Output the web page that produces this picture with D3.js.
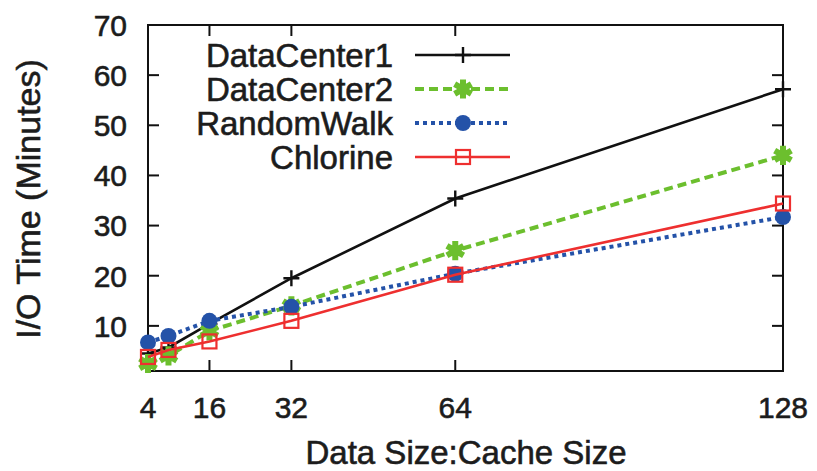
<!DOCTYPE html>
<html>
<head>
<meta charset="utf-8">
<script src="https://cdn.jsdelivr.net/npm/d3@7"></script>
<style>
  body { margin: 0; background: #fff; }
  text { font-family: "Liberation Sans", Arial, sans-serif; fill: #1c1c1c; stroke: #1c1c1c; stroke-width: 0.6px; }
</style>
</head>
<body>
<div id="chart"></div>
<script>
const ratios = [4, 8, 16, 32, 64, 128];
const xTicks = [4, 16, 32, 64, 128];
const yTicks = [10, 20, 30, 40, 50, 60, 70];

const dataCenter1 = [4.5, 5.7, 10.4, 19.5, 35.4, 57.2];
const dataCenter2 = [2.5, 4.0, 9.0, 14.0, 25.0, 44.0];
const randomWalk = [6.7, 8.0, 11.0, 13.8, 20.4, 31.7];
const chlorine = [3.8, 5.2, 6.9, 11.0, 20.2, 34.4];

const seriesNames = ['DataCenter1', 'DataCenter2', 'RandomWalk', 'Chlorine'];

const width = 817, height = 471;
const margin = {top: 25, right: 34, bottom: 100, left: 148};

const svg = d3.select('#chart').append('svg')
    .attr('width', width)
    .attr('height', height);

const x = d3.scaleLinear()
    .domain([4, 128])
    .range([margin.left, width - margin.right]);

const y = d3.scaleLinear()
    .domain([1, 70])
    .range([height - margin.bottom, margin.top]);

const styles = [
    {color: '#111111', width: 2.6, dash: null, marker: 'plus'},
    {color: '#6cbf2e', width: 4, dash: '9,5', marker: 'star'},
    {color: '#2452a8', width: 4, dash: '4,4', marker: 'circle'},
    {color: '#ee2f2f', width: 2.6, dash: null, marker: 'square'}
];

const series = [dataCenter1, dataCenter2, randomWalk, chlorine].map((vals, i) => ({
    name: seriesNames[i],
    style: styles[i],
    points: vals.map((v, j) => ({x: ratios[j], y: v}))
}));

// frame and ticks (gnuplot style, mirrored inward)
const x0 = x.range()[0], x1 = x.range()[1];
const y0 = y.range()[0], y1 = y.range()[1];
const tickLen = 11;

const frame = svg.append('g').attr('stroke', '#111').attr('stroke-width', 2);
frame.append('rect')
    .attr('x', x0).attr('y', y1)
    .attr('width', x1 - x0).attr('height', y0 - y1)
    .attr('fill', 'none');

xTicks.forEach(t => {
    frame.append('line').attr('x1', x(t)).attr('x2', x(t)).attr('y1', y0).attr('y2', y0 - tickLen);
    frame.append('line').attr('x1', x(t)).attr('x2', x(t)).attr('y1', y1).attr('y2', y1 + tickLen);
});
yTicks.forEach(t => {
    frame.append('line').attr('x1', x0).attr('x2', x0 + tickLen).attr('y1', y(t)).attr('y2', y(t));
    frame.append('line').attr('x1', x1).attr('x2', x1 - tickLen).attr('y1', y(t)).attr('y2', y(t));
});

// tick labels
svg.append('g').selectAll('text')
    .data(xTicks)
    .join('text')
    .attr('x', d => x(d))
    .attr('y', 418)
    .attr('text-anchor', 'middle')
    .attr('font-size', 30)
    .text(d => d);

svg.append('g').selectAll('text')
    .data(yTicks)
    .join('text')
    .attr('x', 127)
    .attr('y', d => y(d))
    .attr('dy', '0.36em')
    .attr('text-anchor', 'end')
    .attr('font-size', 30)
    .text(d => d);

// axis titles
svg.append('text')
    .attr('x', 466)
    .attr('y', 464)
    .attr('text-anchor', 'middle')
    .attr('font-size', 33)
    .text('Data Size:Cache Size');

svg.append('text')
    .attr('transform', 'translate(40,199) rotate(-90)')
    .attr('text-anchor', 'middle')
    .attr('font-size', 34)
    .text('I/O Time (Minutes)');

const line = d3.line()
    .x(d => x(d.x))
    .y(d => y(d.y));

function drawMarker(g, type, color, cx, cy) {
    if (type === 'plus') {
        g.append('path')
            .attr('d', `M${cx - 8},${cy}H${cx + 8}M${cx},${cy - 8}V${cy + 8}`)
            .attr('stroke', color).attr('stroke-width', 2.4).attr('fill', 'none');
    } else if (type === 'star') {
        g.append('path')
            .attr('d', d3.symbol(d3.symbolAsterisk, 260)())
            .attr('transform', `translate(${cx},${cy})`)
            .attr('stroke', color).attr('stroke-width', 6).attr('fill', color);
        g.append('circle').attr('cx', cx).attr('cy', cy).attr('r', 6).attr('fill', color);
    } else if (type === 'circle') {
        g.append('circle').attr('cx', cx).attr('cy', cy).attr('r', 8).attr('fill', color);
    } else if (type === 'square') {
        g.append('rect')
            .attr('x', cx - 7).attr('y', cy - 7)
            .attr('width', 14).attr('height', 14)
            .attr('fill', 'none').attr('stroke', color).attr('stroke-width', 2.2);
    }
}

const plot = svg.append('g');
series.forEach(s => {
    const g = plot.append('g');
    g.append('path')
        .datum(s.points)
        .attr('fill', 'none')
        .attr('stroke', s.style.color)
        .attr('stroke-width', s.style.width)
        .attr('stroke-dasharray', s.style.dash)
        .attr('d', line);
    s.points.forEach(p => drawMarker(g, s.style.marker, s.style.color, x(p.x), y(p.y)));
});

// legend
const legend = svg.append('g');
const rowY = [55, 89, 123, 157];
series.forEach((s, i) => {
    const g = legend.append('g');
    g.append('text')
        .attr('x', 393)
        .attr('y', rowY[i])
        .attr('dy', '0.36em')
        .attr('text-anchor', 'end')
        .attr('font-size', 33)
        .text(s.name);
    g.append('line')
        .attr('x1', 415).attr('x2', 510)
        .attr('y1', rowY[i]).attr('y2', rowY[i])
        .attr('stroke', s.style.color)
        .attr('stroke-width', s.style.width)
        .attr('stroke-dasharray', s.style.dash);
    drawMarker(g, s.style.marker, s.style.color, 463, rowY[i]);
});
</script>
</body>
</html>
